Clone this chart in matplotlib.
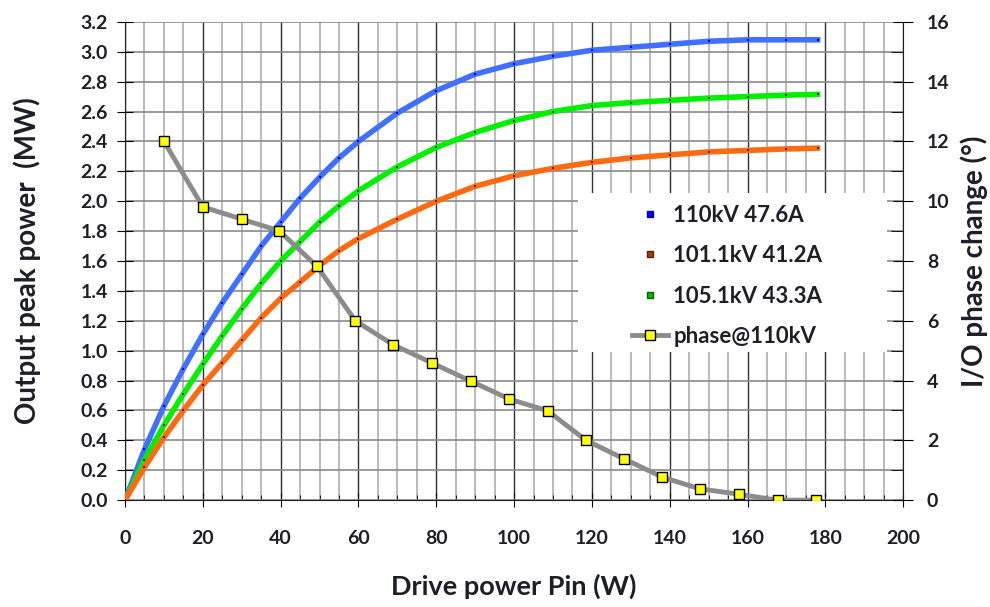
import matplotlib
matplotlib.use("Agg")
import matplotlib.pyplot as plt
from matplotlib.ticker import MultipleLocator, FormatStrFormatter
from matplotlib.lines import Line2D
from matplotlib.patches import Rectangle

plt.rcParams['font.family'] = ['Lato', 'DejaVu Sans']

# Output power curves (drive power in W, output in MW)
pin = [0, 5, 10, 15, 20, 25, 30, 35, 40, 45, 50, 55, 60, 70, 80, 90,
       100, 110, 120, 130, 140, 150, 160, 170, 178]
p_110kv = [0, 0.34, 0.63, 0.88, 1.11, 1.32, 1.51, 1.70, 1.86, 2.02, 2.16, 2.29, 2.40,
           2.59, 2.74, 2.85, 2.92, 2.97, 3.01, 3.03, 3.05, 3.07, 3.08, 3.08, 3.08]
p_101kv = [0, 0.22, 0.42, 0.60, 0.77, 0.92, 1.07, 1.22, 1.35, 1.46, 1.57, 1.67, 1.75,
           1.88, 2.00, 2.10, 2.17, 2.22, 2.26, 2.29, 2.31, 2.33, 2.34, 2.35, 2.355]
p_105kv = [0, 0.27, 0.50, 0.71, 0.91, 1.10, 1.28, 1.45, 1.60, 1.73, 1.86, 1.97, 2.07,
           2.23, 2.36, 2.46, 2.54, 2.60, 2.64, 2.66, 2.675, 2.69, 2.70, 2.71, 2.715]

# I/O phase change at 110 kV (degrees)
pin_phase = [10, 20, 30, 39.6, 49.3, 59.2, 68.9, 78.9, 88.9, 98.8, 108.6, 118.5,
             128.3, 138.1, 147.7, 157.7, 167.7, 177.5]
phase = [12.0, 9.81, 9.40, 9.01, 7.83, 6.0, 5.2, 4.59, 3.98, 3.38, 2.99, 2.0,
         1.38, 0.77, 0.38, 0.2, 0.0, 0.0]

labels = ['110kV 47.6A', '101.1kV 41.2A', '105.1kV 43.3A', 'phase@110kV']

TXT = '#1E1E28'

fig = plt.figure(figsize=(9.9, 6.07), dpi=100)
ax = fig.add_axes([0.1263, 0.176, 0.786, 0.788])
ax2 = ax.twinx()

ax.plot(pin, p_110kv, color='#4070FF', lw=4, marker='s', ms=1.8, mew=0,
        mfc='#0000CC', zorder=3)
ax.plot(pin, p_105kv, color='#00F000', lw=4, marker='s', ms=1.8, mew=0,
        mfc='#202020', zorder=3)
ax.plot(pin, p_101kv, color='#FF6A10', lw=4, marker='s', ms=1.8, mew=0,
        mfc='#303030', zorder=3)
ax2.plot(pin_phase, phase, color='#8C8C8C', lw=3.5, marker='s', ms=7,
         mfc='#FFFF00', mec='black', mew=1, solid_joinstyle='round')

ax.set_xlim(0, 200)
ax.set_ylim(0, 3.2)
ax2.set_ylim(0, 16)

ax.xaxis.set_major_locator(MultipleLocator(20))
ax.xaxis.set_minor_locator(MultipleLocator(5))
ax.yaxis.set_major_locator(MultipleLocator(0.2))
ax.yaxis.set_major_formatter(FormatStrFormatter('%.1f'))
ax2.yaxis.set_major_locator(MultipleLocator(2))
ax2.yaxis.set_minor_locator(MultipleLocator(1))

ax.set_axisbelow(True)
ax.grid(which='minor', axis='x', color='#B4B4B4', lw=1.3)
ax.grid(which='major', axis='x', color='#303030', lw=1.0)
ax.grid(which='major', axis='y', color='#8A8A8A', lw=1.2)

for s in ['top', 'right']:
    ax.spines[s].set_visible(False)
for s in ['top', 'left', 'bottom']:
    ax2.spines[s].set_visible(False)
ax.spines['left'].set_color('#202020')
ax.spines['bottom'].set_color('#202020')
ax2.spines['right'].set_color('#202020')

ax.tick_params(axis='x', which='major', direction='inout', length=9.5, pad=17)
ax.tick_params(axis='x', which='minor', direction='in', length=3.6)
ax.tick_params(axis='y', which='major', direction='inout', length=11, pad=7)
ax2.tick_params(axis='y', which='major', direction='inout', length=14, pad=10)
ax2.tick_params(axis='y', which='minor', direction='in', length=9)
for lab in ax.get_xticklabels() + ax.get_yticklabels() + ax2.get_yticklabels():
    lab.set_fontsize(14)
    lab.set_fontweight('bold')
    lab.set_color(TXT)

ax.set_xlabel('Drive power Pin (W)', fontsize=19.5, fontweight='bold',
              color=TXT, labelpad=19)
ax.set_ylabel('Output peak power  (MW)', fontsize=20, fontweight='bold',
              color=TXT, labelpad=28)
ax2.set_ylabel('I/O phase change (°)', fontsize=20, fontweight='bold',
               color=TXT, labelpad=8)

# white legend panel hiding the grid behind the legend
ax2.add_patch(Rectangle((0.582, 0.31), 0.397, 0.332, transform=ax2.transAxes,
                        facecolor='white', edgecolor='none', zorder=4))

handles = [
    Line2D([], [], ls='none', marker='s', ms=4, mfc='#0000FF', mec='#0000AA'),
    Line2D([], [], ls='none', marker='s', ms=4, mfc='#A04010', mec='#602000'),
    Line2D([], [], ls='none', marker='s', ms=4, mfc='#00C000', mec='#006000'),
    Line2D([], [], color='#8C8C8C', lw=3.5, marker='s', ms=7,
           mfc='#FFFF00', mec='black', mew=1),
]
leg = ax2.legend(handles, labels, loc='upper left',
                 bbox_to_anchor=(0.652, 0.618), borderaxespad=0, borderpad=0,
                 frameon=False, prop={'family': ['Lato', 'DejaVu Sans'],
                                      'weight': 'bold', 'size': 16},
                 labelspacing=0.88, handlelength=1.6, handletextpad=0.25)
leg.set_zorder(5)
for t in leg.get_texts():
    t.set_color(TXT)

fig.savefig('out.png', dpi=100, facecolor='white')
